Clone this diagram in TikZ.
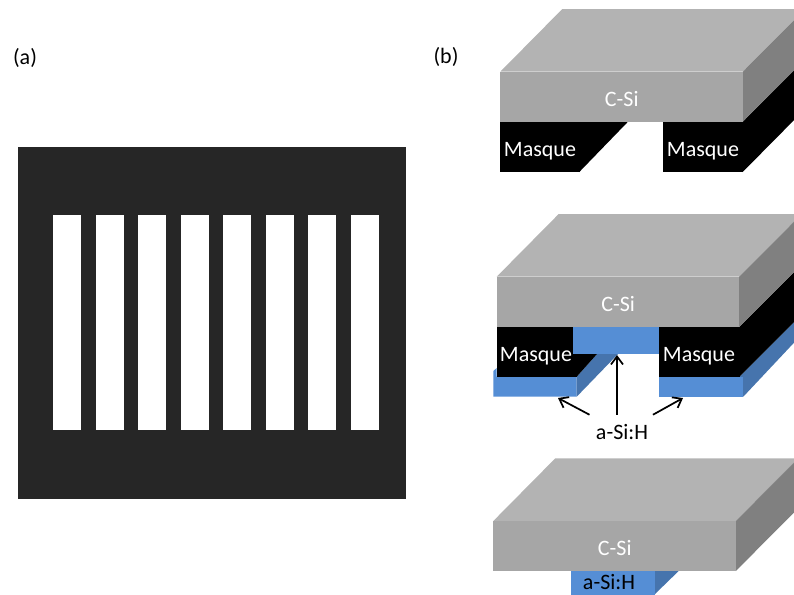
\documentclass[tikz,border=0pt]{standalone}
\usepackage{fontspec}
\setmainfont{Carlito}
\usetikzlibrary{arrows.meta}

\definecolor{sitop}{HTML}{B3B3B3}
\definecolor{sifront}{HTML}{A6A6A6}
\definecolor{siside}{HTML}{808080}
\definecolor{asifront}{HTML}{558ED5}
\definecolor{asiside}{HTML}{4674AD}
\definecolor{plate}{HTML}{262626}

\begin{document}
\begin{tikzpicture}[x=0.75pt,y=-0.75pt]

% Define text and arrow styles
\tikzstyle{lbl} =[font=\fontsize{16.5}{20}\selectfont, inner sep=0pt]
\tikzstyle{lblw}=[lbl, text=white]
\tikzstyle{lbla}=[lbl, minimum width=60, minimum height=25.5pt]
\tikzstyle{pointer} =[-{Straight Barb[length=6pt,width=9pt]}, line width=1.3pt]

\useasboundingbox (0,0) rectangle (794,594);
\clip (0,0) rectangle (794,594);

% (a) mask seen from above
\fill[plate] (18,147) rectangle (406,499);
\foreach \a in {53,96,138,181,223,266,308,351}{
  \fill[white] (\a,215) rectangle (\a+28,430);
}
\node[lbl] (lbla) at (25,58) {(a)};
\node[lbl] (lblb) at (446,57) {(b)};

% first step : masks under the wafer
\fill[black] (500.3,121.7) rectangle (579.6,172);
\fill[black] (579.3,121.7) -- (628,121.7) -- (579.3,172) -- cycle;
\fill[black] (663,121.7) rectangle (743,172);
\fill[black] (742.7,121.7) -- (805,59) -- (805,109) -- (742.7,172) -- cycle;
\node[lblw] (maskA) at (540,151) {Masque};
\node[lblw] (maskB) at (703,151) {Masque};

% second step : a-Si:H deposited
\fill[asiside] (739.3,376.7) -- (805,311) -- (805,331) -- (743.3,396.7) -- (739.3,396.7) -- cycle;
\fill[asifront] (659.3,376.7) rectangle (743.3,396.7);
\fill[asifront] (493.3,396.7) -- (493.3,371) -- (496.7,368) -- (496.7,376.7) -- (576.7,376.7) -- (576.7,396.7) -- cycle;
\fill[asiside] (576.7,376.7) -- (597,354) -- (618,354) -- (576.7,396.7) -- cycle;
\fill[black] (496.7,326.7) rectangle (577,376.7);
\fill[black] (576.7,354) -- (597,354) -- (576.7,376.7) -- cycle;
\fill[black] (659.3,326.7) rectangle (739.6,376.7);
\fill[black] (739.3,326.7) -- (805,261) -- (805,311) -- (739.3,376.7) -- cycle;
\fill[asifront] (573.3,326.7) rectangle (659.3,354);
\node[lblw] (maskC) at (536,356) {Masque};
\node[lblw] (maskD) at (699,356) {Masque};

% third step : masks removed
\fill[asifront] (571,570.7) rectangle (655,600);
\fill[asiside] (655,570.7) -- (679,570.7) -- (655,594) -- cycle;
\node[lbl] (asiC) at (609,582) {a-Si:H};

% the three wafers
\foreach \x/\y/\n in {500.3/71.7/A, 496.7/276.7/B, 493.3/521/C}{
  \fill[sitop] (\x,\y) -- (\x+62,\y-62.7) -- (\x+305,\y-62.7) -- (\x+242.5,\y) -- cycle;
  \fill[siside] (\x+242.5,\y) -- (\x+305,\y-62.7) -- (\x+305,\y-12.7) -- (\x+242.5,\y+50) -- cycle;
  \fill[sifront] (\x,\y) rectangle (\x+242.5,\y+50);
  \node[lblw] (si\n) at (\x+121.5,\y+27) {C-Si};
}

% arrows to the a-Si:H layers
\coordinate (tipA) at (558,398);
\coordinate (tipB) at (617,355);
\coordinate (tipC) at (683,398);
\node[lbla] (asiB) at (622,432) {a-Si:H};
\draw[pointer] (asiB) -- (tipA);
\draw[pointer] (asiB.north -| tipB) -- (tipB);
\draw[pointer] (asiB) -- (tipC);

\end{tikzpicture}
\end{document}
